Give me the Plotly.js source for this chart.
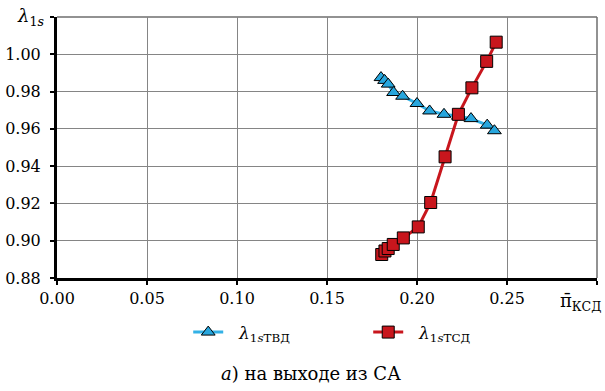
<!DOCTYPE html>
<html><head><meta charset="utf-8">
<script src="https://cdn.plot.ly/plotly-3.0.1.min.js"></script>
<style>html,body{margin:0;padding:0;background:#fff}#c{width:605px;height:391px}</style>
</head><body><div id="c"></div>
<script>
const tvdX = [0.180, 0.182, 0.184, 0.187, 0.192, 0.200, 0.207, 0.215, 0.223, 0.230, 0.239, 0.243];
const tvdY = [0.9875, 0.986, 0.984, 0.9795, 0.9775, 0.9736, 0.9696, 0.9678, 0.9668, 0.9655, 0.962, 0.959];
const tsdX = [0.1804, 0.1822, 0.184, 0.1868, 0.1924, 0.2007, 0.2076, 0.2156, 0.223, 0.2305, 0.2387, 0.2440];
const tsdY = [0.8926, 0.8945, 0.8958, 0.898, 0.9015, 0.9074, 0.9205, 0.945, 0.9678, 0.982, 0.9962, 1.0065];
const xTicks = [0, 0.05, 0.10, 0.15, 0.20, 0.25, 0.30];
const xTickText = ['0.00', '0.05', '0.10', '0.15', '0.20', '0.25', ''];
const yTicks = [0.88, 0.90, 0.92, 0.94, 0.96, 0.98, 1.00, 1.02];
const yTickText = ['0.88', '0.90', '0.92', '0.94', '0.96', '0.98', '1.00', ''];
const nameTVD = '&nbsp;&nbsp;<i>λ</i><sub>1<i>s</i>ТВД</sub>';
const nameTSD = '&nbsp;&nbsp;<i>λ</i><sub>1<i>s</i>ТСД</sub>';

const F = 'DejaVu Serif';
const data = [
  {x: tvdX, y: tvdY, name: nameTVD, mode: 'lines+markers', type: 'scatter',
   line: {color: '#33B1E6', width: 3},
   marker: {symbol: 'triangle-up', size: 12, color: '#27A6DD', line: {color: '#000', width: 1}}},
  {x: tsdX, y: tsdY, name: nameTSD, mode: 'lines+markers', type: 'scatter',
   line: {color: '#C8161D', width: 3},
   marker: {symbol: 'square', size: 12, color: '#C8161D', line: {color: '#000', width: 1}}}
];
const layout = {
  width: 605, height: 391,
  margin: {l: 57, r: 8, t: 17, b: 113},
  paper_bgcolor: '#fff', plot_bgcolor: '#fff',
  font: {family: F, size: 16, color: '#000'},
  showlegend: true,
  legend: {orientation: 'h', x: 0.243, xanchor: 'left', y: -0.14, yanchor: 'top',
           font: {family: F, size: 17}, entrywidth: 135, itemwidth: 30},
  xaxis: {range: [0, 0.30], tickvals: xTicks, ticktext: xTickText,
          showgrid: true, gridcolor: '#858585', gridwidth: 1,
          showline: true, linecolor: '#000', linewidth: 3,
          ticks: 'outside', ticklen: 4, tickcolor: '#000', tickwidth: 2,
          zeroline: false, tickfont: {family: F, size: 16}},
  yaxis: {range: [0.88, 1.02], tickvals: yTicks, ticktext: yTickText,
          showgrid: true, gridcolor: '#858585', gridwidth: 1,
          showline: true, linecolor: '#000', linewidth: 3,
          ticks: 'outside', ticklen: 4, tickcolor: '#000', tickwidth: 2,
          ticklabelstandoff: 6,
          zeroline: false, tickfont: {family: F, size: 16}},
  shapes: [
    {type: 'line', xref: 'paper', yref: 'paper', x0: 1, x1: 1, y0: 0, y1: 1, line: {color: '#6e6e6e', width: 1.5}, layer: 'below'},
    {type: 'line', xref: 'paper', yref: 'paper', x0: 0, x1: 1, y0: 1, y1: 1, line: {color: '#6e6e6e', width: 1.5}, layer: 'below'}
  ],
  annotations: [
    {xref: 'paper', yref: 'paper', x: 1.012, y: -0.04, xanchor: 'right', yanchor: 'top',
     text: 'π̄<sub>КСД</sub>', showarrow: false, font: {family: F, size: 18}},
    {xref: 'paper', yref: 'paper', x: -0.05, y: 1.0, xanchor: 'center', yanchor: 'middle',
     text: '<i>λ</i><sub>1<i>s</i></sub>', showarrow: false, font: {family: F, size: 18}},
    {xref: 'paper', yref: 'paper', x: 0.47, y: -0.365, xanchor: 'center', yanchor: 'middle',
     text: '<i>а</i>) на выходе из СА', showarrow: false, font: {family: F, size: 18}}
  ]
};
Plotly.newPlot('c', data, layout, {displayModeBar: false, staticPlot: true});
</script></body></html>
